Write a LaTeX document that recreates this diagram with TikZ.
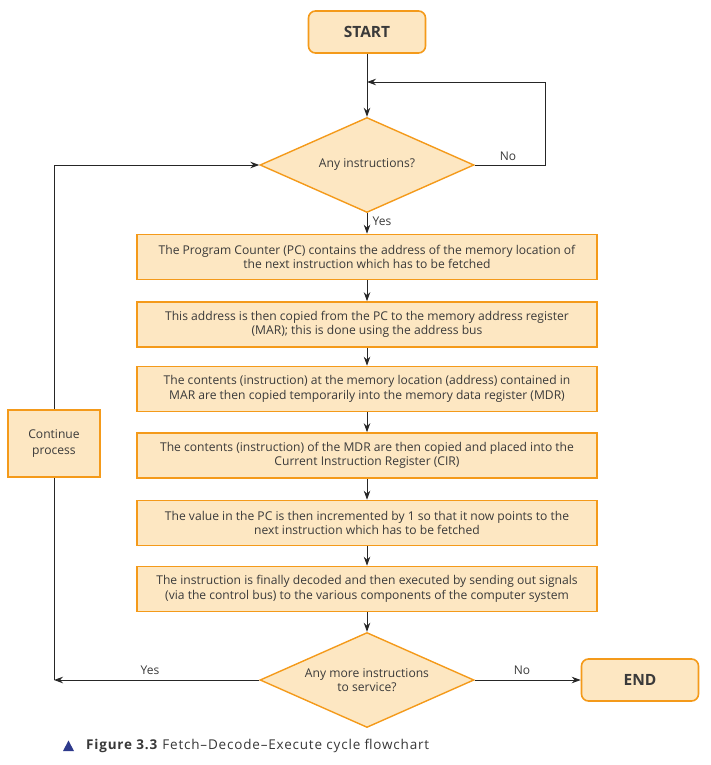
\documentclass[tikz,border=0pt]{standalone}
\usepackage{fontspec}
\setmainfont{Open Sans}
\usetikzlibrary{shapes.geometric,arrows.meta}
\definecolor{boxfill}{HTML}{FDE7C2}
\definecolor{boxline}{HTML}{F49A1A}
\definecolor{txt}{HTML}{3A3A3A}
\definecolor{capblue}{HTML}{2E3A8C}
\tikzset{
  x=1pt,y=-1pt,
  every node/.style={text=txt,font=\fontsize{12.1}{14.5}\selectfont},
  procbox/.style={draw=boxline,fill=boxfill,line width=1.6pt,minimum width=460pt,minimum height=45pt,inner sep=0pt,align=center},
  termbox/.style={draw=boxline,fill=boxfill,line width=1.6pt,rounded corners=7pt,minimum width=117pt,minimum height=42pt,inner sep=0pt,font=\fontsize{15.5}{17}\selectfont\bfseries},
  decide/.style={diamond,draw=boxline,fill=boxfill,line width=1.4pt,minimum width=214pt,minimum height=95pt,aspect=2.25,inner sep=0pt,align=center},
  conn/.style={draw=black!85,line width=0.9pt},
  arr/.style={conn,-{Stealth[length=9pt,width=6.5pt]}},
  lab/.style={font=\fontsize{12}{14}\selectfont}
}
\begin{document}
\begin{tikzpicture}
\useasboundingbox (0,0) rectangle (710,765);
\node[termbox] (start) at (367,32) {START};
\node[decide] (d1) at (367,165) {Any instructions?};
\node[procbox] (b1) at (367,257) {The Program Counter (PC) contains the address of the memory location of\\the next instruction which has to be fetched};
\node[procbox] (b2) at (367,324.5) {This address is then copied from the PC to the memory address register\\(MAR); this is done using the address bus};
\node[procbox] (b3) at (367,389) {The contents (instruction) at the memory location (address) contained in\\MAR are then copied temporarily into the memory data register (MDR)};
\node[procbox] (b4) at (367,455.5) {The contents (instruction) of the MDR are then copied and placed into the\\Current Instruction Register (CIR)};
\node[procbox] (b5) at (367,523) {The value in the PC is then incremented by 1 so that it now points to the\\next instruction which has to be fetched};
\node[procbox] (b6) at (367,589) {The instruction is finally decoded and then executed by sending out signals\\(via the control bus) to the various components of the computer system};
\node[decide] (d2) at (367,680) {Any more instructions\\to service?};
\node[termbox] (end) at (640,680) {END};
\node[procbox,minimum width=92pt,minimum height=67pt,font=\fontsize{12.1}{16.5}\selectfont] (cont) at (54,443.5) {Continue\\process};
\coordinate (loopr) at (545,82);
\coordinate (join) at (367,82);
\coordinate (lcorner) at (54,680);
% connectors
\draw[arr] (start.south) -- (d1.north);
\draw[conn] (d1.east) -| (loopr);
\draw[arr] (loopr) -- (join);
\draw[arr] (d1.south) -- (b1.north);
\draw[arr] (b1.south) -- (b2.north);
\draw[arr] (b2.south) -- (b3.north);
\draw[arr] (b3.south) -- (b4.north);
\draw[arr] (b4.south) -- (b5.north);
\draw[arr] (b5.south) -- (b6.north);
\draw[arr] (b6.south) -- (d2.north);
\draw[arr] (d2.east) -- (end.west);
\draw[arr] (d2.west) -- (lcorner);
\draw[conn] (lcorner) -- (cont.south);
\draw[arr] (cont.north) |- (d1.west);
% labels
\node[lab] (no1) at (508,156) {No};
\node[lab] (yes1) at (382,221) {Yes};
\node[lab] (yes2) at (150,670) {Yes};
\node[lab] (no2) at (522,670) {No};
% caption
\fill[capblue] (63,751) -- (74,751) -- (68.5,740.5) -- cycle;
\node[anchor=west,inner sep=0pt,font=\fontsize{13.5}{15}\selectfont\addfontfeatures{LetterSpace=6},text=black!78] (cap) at (86,746) {\textbf{Figure 3.3} Fetch–Decode–Execute cycle flowchart};
\end{tikzpicture}
\end{document}
